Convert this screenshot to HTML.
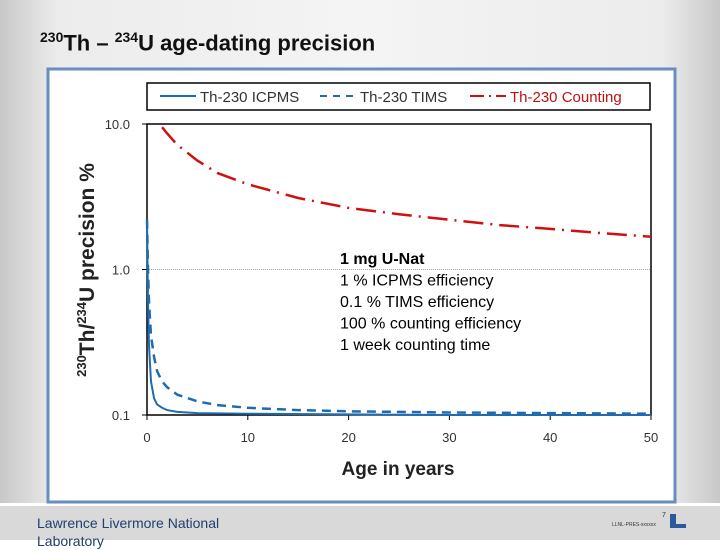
<!DOCTYPE html>
<html><head><meta charset="utf-8"><style>
body{margin:0;width:720px;height:540px;overflow:hidden;font-family:"Liberation Sans",sans-serif;background:#fff;position:relative}
#bg{position:absolute;left:0;top:0;width:720px;height:503px;background:linear-gradient(90deg,#c8c8c8 0%,#ececec 8%,#f4f4f4 50%,#ececec 92%,#c8c8c8 100%)}
#foot{position:absolute;left:0;top:506px;width:720px;height:34px;background:#d9d9d9}
</style></head><body>
<div id="bg"></div>
<div id="foot"></div>
<div style="position:absolute;left:40px;top:29px;font-size:22px;font-weight:bold;color:#111"><sup style="font-size:14px">230</sup>Th – <sup style="font-size:14px">234</sup>U age-dating precision</div>
<div style="position:absolute;left:37px;top:514px;font-size:14px;color:#1f3f6f;line-height:18px">Lawrence Livermore National<br>Laboratory</div>
<div style="position:absolute;left:662px;top:512px;font-size:7px;color:#333">7</div>
<div style="position:absolute;left:612px;top:522px;font-size:5px;color:#333">LLNL-PRES-xxxxxx</div>
<div style="position:absolute;left:670px;top:514px;width:6px;height:14px;background:#2a5a9a"></div>
<div style="position:absolute;left:670px;top:524px;width:16px;height:4px;background:#2a5a9a"></div>
<svg id="chart" width="720" height="540" style="position:absolute;left:0;top:0">
<rect x="48" y="69" width="627" height="433" fill="#fff" stroke="#6a8cbf" stroke-width="3"/>
<g id="g"></g>
</svg>
<script>
const xTicks=[0,10,20,30,40,50];
const yTicks=[0.1,1,10];
const yTickLabels=["0.1","1.0","10.0"];
const countX=[1.5,2,3,5,7,10,15,20,25,30,35,40,45,50];
const countY=[9.5,8.6,7.2,5.6,4.6,3.85,3.1,2.65,2.4,2.2,2.02,1.9,1.78,1.68];
const icpX=[0,0.1,0.2,0.4,0.7,1,1.5,2,3,5,10,20,30,50];
const icpY=[2.2,0.6,0.3,0.17,0.13,0.118,0.112,0.108,0.105,0.103,0.102,0.101,0.1,0.1];
const timsX=[0,0.1,0.2,0.4,0.7,1,1.5,2,3,5,7,10,15,20,30,40,50];
const timsY=[2.2,1.0,0.6,0.35,0.25,0.2,0.17,0.155,0.138,0.124,0.117,0.112,0.108,0.106,0.104,0.103,0.102];
const X0=147,X1=651,YT=124,YB=415;
const sx=v=>X0+(v-0)/50*(X1-X0);
const sy=v=>YB-(Math.log10(v)+1)/2*(YB-YT);
const NS="http://www.w3.org/2000/svg";const g=document.getElementById('g');
function mk(t,a,txt){const e=document.createElementNS(NS,t);for(const k in a)e.setAttribute(k,a[k]);if(txt!==undefined)e.textContent=txt;g.appendChild(e);return e;}
let e;
e=mk('rect',{x:X0,y:YT,width:X1-X0,height:YB-YT,fill:'#fff',stroke:'#000','stroke-width':1.5});


e=mk('line',{x1:X0,x2:X1,y1:sy(1),y2:sy(1),stroke:'#888','stroke-width':0.8,'stroke-dasharray':'1 1'});


yTicks.forEach((v,i)=>{
 e=mk('text',{x:X0-17,y:sy(v)+5,'text-anchor':'end','font-size':13,fill:'#333'},yTickLabels[i]);
 
 
 e=mk('line',{x1:X0-5,x2:X0,y1:sy(v),y2:sy(v),stroke:'#000'});
 
 
});
xTicks.forEach(v=>{
 e=mk('text',{x:sx(v),y:YB+27,'text-anchor':'middle','font-size':13,fill:'#333'},String(v));
 
 
 e=mk('line',{x1:sx(v),x2:sx(v),y1:YB,y2:YB+5,stroke:'#000'});
 
 
});
function path(xs,ys){return xs.map((x,i)=>(i?'L':'M')+sx(x).toFixed(1)+','+sy(ys[i]).toFixed(1)).join('');}
e=mk('path',{d:path(timsX,timsY),fill:'none',stroke:'#1f6bb0','stroke-width':2.5,'stroke-dasharray':'9 6'});


e=mk('path',{d:path(icpX,icpY),fill:'none',stroke:'#1f6bb0','stroke-width':2});


e=mk('path',{d:path(countX,countY),fill:'none',stroke:'#d01010','stroke-width':2.5,'stroke-dasharray':'20 7 2 7'});


e=mk('text',{x:398,y:475,'text-anchor':'middle','font-size':19,'font-weight':'bold',fill:'#222'},'Age in years');


e=mk('text',{transform:'translate(94,270) rotate(-90)','text-anchor':'middle','font-size':21,'font-weight':'bold',fill:'#222'});
e.innerHTML='<tspan font-size="13" dy="-8">230</tspan><tspan dy="8">Th/</tspan><tspan font-size="13" dy="-8">234</tspan><tspan dy="8">U precision %</tspan>';


e=mk('rect',{x:147,y:83,width:503,height:27,fill:'#fff',stroke:'#000','stroke-width':1.5});


const legItems=[['Th-230 ICPMS','#1f6bb0','none','#333',160],['Th-230 TIMS','#1f6bb0','7 6','#333',320],['Th-230 Counting','#d01010','14 5 2 5','#c01010',470]];
legItems.forEach(l=>{
 e=mk('line',{x1:l[4],x2:l[4]+36,y1:96,y2:96,stroke:l[1],'stroke-width':2,'stroke-dasharray':l[2]});
 
 
 e=mk('text',{x:l[4]+40,y:102,'font-size':15,fill:l[3]},l[0]);
 
 
});
const notes=['1 mg U-Nat','1 % ICPMS efficiency','0.1 % TIMS efficiency','100 % counting efficiency','1 week counting time'];
notes.forEach((t,i)=>{
 e=mk('text',{x:340,y:264+i*21.5,'font-size':16,fill:'#000','font-weight':i?'normal':'bold'},t);
 
 
});
</script>
</body></html>
